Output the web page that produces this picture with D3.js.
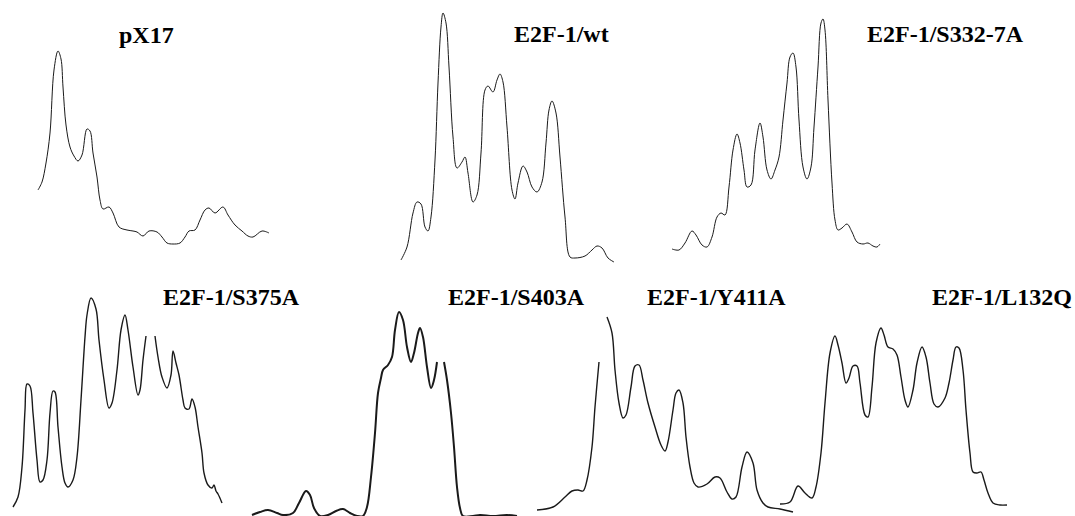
<!DOCTYPE html>
<html>
<head>
    <meta charset="utf-8">
    <title>Densitometry traces</title>
    <style>
        body { margin: 0; background: #fff; }
        svg { display: block; }
        .label {
            font-family: 'Liberation Serif', 'Times New Roman', serif;
            font-weight: bold;
            font-size: 24px;
            fill: #000;
        }
    </style>
</head>
<body>
<div id="chart"></div>

<script src="https://d3js.org/d3.v7.min.js"></script>
<script>
// each trace: [migration position, intensity above baseline], null = gap in the scan
var pX17 = [[0,60],[4,68],[8,87],[12,117],[16,180],[20,199],[23,191],[25,163],[28,125],[32,103],[36,94],[40,89],[44,95],[49,121],[52,119],[55,97],[59,73],[62,50],[65,41],[71,43],[75,37],[81,23],[89,20],[95,19],[99,18],[105,14],[111,19],[119,18],[124,13],[129,7],[135,6],[142,7],[147,13],[151,19],[157,20],[162,30],[167,40],[171,42],[177,37],[185,43],[190,35],[197,25],[204,19],[210,14],[215,13],[224,19],[231,17]];

var wt = [[0,5],[6,18],[12,52],[16,63],[20,61],[24,38],[27,34],[30,48],[34,105],[37,182],[40,238],[42,252],[45,242],[48,198],[52,128],[56,97],[61,103],[64,108],[67,92],[72,63],[76,70],[80,112],[84,175],[87,179],[92,173],[96,185],[99,191],[102,183],[106,138],[111,75],[114,66],[117,82],[122,99],[126,93],[131,78],[136,73],[141,83],[145,122],[148,155],[151,164],[155,152],[159,108],[164,48],[169,8],[174,7],[184,9],[191,15],[196,19],[201,17],[207,7],[213,3]];

var s332 = [[0,3],[7,2],[13,9],[20,21],[24,17],[30,7],[35,5],[40,15],[45,35],[49,39],[53,37],[57,65],[61,102],[65,118],[68,109],[72,82],[75,65],[79,67],[83,102],[88,129],[91,115],[95,82],[99,73],[103,82],[107,95],[111,132],[115,169],[118,195],[121,199],[124,185],[127,132],[131,85],[135,73],[139,85],[142,125],[146,185],[149,229],[151,233],[153,222],[156,152],[160,69],[163,32],[166,22],[170,24],[175,28],[180,20],[185,10],[191,8],[196,9],[201,6],[205,5],[208,8]];

var s375 = [[0,3],[5,13],[9,43],[12,100],[14,126],[17,124],[20,97],[24,50],[27,28],[30,30],[34,50],[37,97],[40,119],[42,118],[45,83],[49,43],[52,27],[55,23],[60,30],[64,53],[68,110],[72,173],[74,195],[78,212],[83,201],[86,170],[91,130],[96,102],[99,107],[104,140],[108,180],[112,195],[115,180],[120,143],[125,115],[127,120],[130,150],[133,174],null,[142,174],[145,153],[149,133],[154,122],[158,135],[160,159],[163,147],[166,135],[170,110],[172,102],[176,101],[179,111],[182,103],[185,83],[189,57],[191,37],[195,25],[199,22],[201,25],[203,19],[205,16],[209,7]];

var s403 = [[0,2],[8,5],[16,7],[25,4],[31,2],[41,4],[47,14],[54,26],[58,22],[62,9],[68,1],[76,2],[84,6],[91,8],[98,4],[105,1],[111,1],[115,10],[119,40],[123,84],[126,124],[129,139],[131,147],[136,152],[140,160],[143,187],[147,205],[151,197],[155,170],[159,155],[162,164],[166,184],[168,189],[171,180],[175,150],[179,129],[182,137],[185,155],null,[192,155],[195,137],[199,104],[202,70],[205,30],[208,9],[211,1],[221,1],[228,2],[241,1],[255,2],[265,1]];

var y411 = [[0,2],[16,5],[28,15],[35,21],[41,22],[46,21],[50,32],[55,65],[58,105],[62,150],null,[70,195],[75,179],[78,142],[82,109],[86,94],[89,97],[94,125],[98,146],[102,147],[106,132],[111,109],[118,85],[124,67],[128,61],[131,70],[136,102],[139,119],[142,122],[146,109],[149,75],[153,45],[157,29],[161,25],[170,28],[178,35],[183,34],[190,20],[195,13],[199,15],[205,45],[210,60],[216,49],[220,22],[226,9],[231,5],[243,3],[256,0]];

var l132 = [[0,4],[10,6],[18,22],[25,15],[32,10],[36,21],[41,55],[45,105],[50,155],[55,172],[58,163],[62,145],[66,125],[69,130],[73,142],[77,142],[80,125],[85,93],[88,91],[92,121],[96,165],[101,180],[104,173],[108,161],[113,159],[117,153],[121,131],[125,108],[128,101],[133,118],[137,145],[142,161],[146,151],[150,125],[154,104],[158,101],[165,110],[169,125],[173,148],[176,161],[179,160],[183,138],[186,98],[190,55],[193,36],[197,35],[201,36],[204,28],[208,15],[213,5],[220,3],[227,3]];

var labels = ["pX17", "E2F-1/wt", "E2F-1/S332-7A", "E2F-1/S375A", "E2F-1/S403A", "E2F-1/Y411A", "E2F-1/L132Q"];
var traces = [pX17, wt, s332, s375, s403, y411, l132];

// where each trace sits on the page (left edge, baseline) and its label anchor
var panels = [
    {left: 38,  base: 250, lx: 119, ly: 43,  w: 1.0},
    {left: 401, base: 265, lx: 514, ly: 42,  w: 1.0},
    {left: 672, base: 252, lx: 867, ly: 42,  w: 1.0},
    {left: 13,  base: 510, lx: 163, ly: 305, w: 1.4},
    {left: 252, base: 517, lx: 448, ly: 305, w: 2.0},
    {left: 537, base: 512, lx: 647, ly: 305, w: 1.4},
    {left: 780, base: 508, lx: 932, ly: 305, w: 1.4}
];

var width = 1075, height = 516;

var svg = d3.select("#chart")
    .append("svg")
    .attr("width", width)
    .attr("height", height);

traces.forEach(function(trace, i){
    var p = panels[i];
    var x = d3.scaleLinear().domain([0, 100]).range([p.left, p.left + 100]);
    var y = d3.scaleLinear().domain([0, 100]).range([p.base, p.base - 100]);

    var line = d3.line()
        .defined(function(d){ return d !== null; })
        .x(function(d){ return x(d[0]); })
        .y(function(d){ return y(d[1]); })
        .curve(d3.curveCatmullRom.alpha(0.5));

    svg.append("path")
        .datum(trace)
        .attr("d", line)
        .attr("fill", "none")
        .attr("stroke", "#1a1a1a")
        .attr("stroke-width", p.w)
        .attr("stroke-linejoin", "round");

    svg.append("text")
        .attr("class", "label")
        .attr("x", p.lx)
        .attr("y", p.ly)
        .text(labels[i]);
});
</script>
</body>
</html>
